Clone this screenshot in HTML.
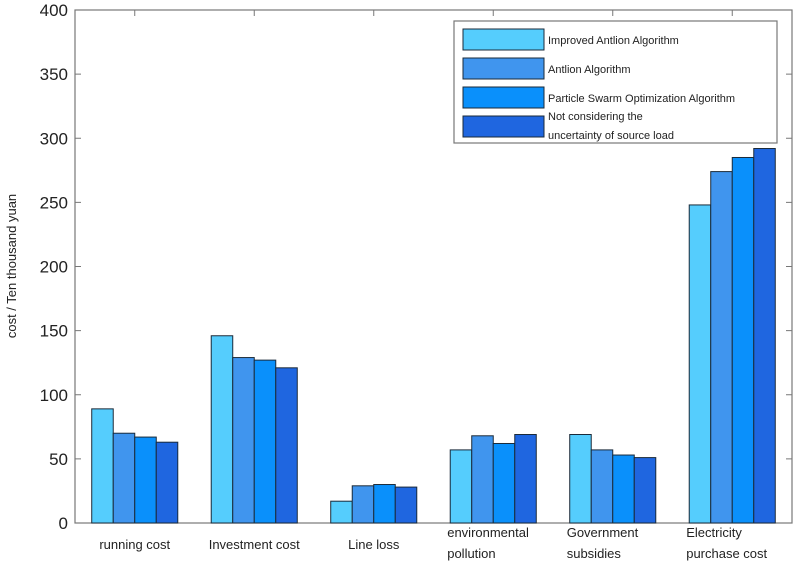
<!DOCTYPE html>
<html><head><meta charset="utf-8"><style>
body{margin:0;background:#fff;}
svg{display:block;font-family:"Liberation Sans",sans-serif;}
</style></head><body>
<svg id="chart" width="796" height="564" viewBox="0 0 796 564"></svg>
<script>
const categories=[["running cost"],["Investment cost"],["Line loss"],["environmental","pollution"],["Government","subsidies"],["Electricity","purchase cost"]];
const seriesNames=[["Improved Antlion  Algorithm"],["Antlion Algorithm"],["Particle Swarm Optimization Algorithm"],["Not considering the","uncertainty of source load"]];
const improvedAntlion=[89,146,17,57,69,248];
const antlion=[70,129,29,68,57,274];
const pso=[67,127,30,62,53,285];
const notConsidering=[63,121,28,69,51,292];
const yTicks=[0,50,100,150,200,250,300,350,400];
const series=[improvedAntlion,antlion,pso,notConsidering];
const colors=["#55cdfd","#4095ee","#0a90fb","#1f66e0"];
const L=75,R=792,T=10,B=523,yMax=400;
const svg=document.getElementById('chart');
const NS="http://www.w3.org/2000/svg";
function y(v){return B-(v/yMax)*(B-T);}
const slot=(R-L)/categories.length;
function xc(i){return L+slot*(i+0.5);}
const bw=slot*0.18;
function mk(t,a,p){const e=document.createElementNS(NS,t);for(const k in a)e.setAttribute(k,a[k]);(p||svg).appendChild(e);return e;}
// frame
const frame=mk('rect',{x:L,y:T,width:R-L,height:B-T,fill:'none',stroke:'#777','stroke-width':1.2});


// bars
categories.forEach((c,i)=>{
  series.forEach((s,j)=>{
    const x0=xc(i)-2*bw+j*bw;
    const r=mk('rect',{x:x0,y:y(s[i]),width:bw,height:B-y(s[i]),fill:colors[j],stroke:'#1a2a3a','stroke-width':1});
    
    
  });
  const t=mk('text',{'font-size':13,fill:'#222'});
  
  
  if(c.length===1){t.setAttribute('x',xc(i));t.setAttribute('y',549);t.setAttribute('text-anchor','middle');t.textContent=c[0];}
  else{c.forEach((ln,k)=>{const ts=mk('tspan',{x:xc(i)-2*bw-3,y:537+k*21},t);ts.textContent=ln;});}
});
// ticks
yTicks.forEach(v=>{
  mk('line',{x1:L,x2:L+6,y1:y(v),y2:y(v),stroke:'#777'});
  mk('line',{x1:R,x2:R-6,y1:y(v),y2:y(v),stroke:'#777'});
  const t=mk('text',{x:68,y:y(v)+6,'font-size':17,'text-anchor':'end',fill:'#222'});
  
  
  t.textContent=v;
});
categories.forEach((c,i)=>{mk('line',{x1:xc(i),x2:xc(i),y1:T,y2:T+6,stroke:'#777'});});
const yt=mk('text',{x:0,y:0,'font-size':13,'text-anchor':'middle',fill:'#222',transform:'translate(16,266) rotate(-90)'});


yt.textContent='cost / Ten thousand yuan';
// legend
const lg=mk('g',{});


mk('rect',{x:454,y:21,width:323,height:122,fill:'#fff',stroke:'#777','stroke-width':1.2},lg);
seriesNames.forEach((n,j)=>{
  const sy=29+j*29;
  const sw=mk('rect',{x:463,y:sy,width:81,height:21,fill:colors[j],stroke:'#1a2a3a','stroke-width':1},lg);
  
  
  const t=mk('text',{'font-size':11,fill:'#222'},lg);
  
  
  if(n.length===1){const ts=mk('tspan',{x:548,y:sy+15},t);ts.textContent=n[0];}
  else{n.forEach((ln,k)=>{const ts=mk('tspan',{x:548,y:sy+4+k*19},t);ts.textContent=ln;});}
});
</script>
</body></html>
